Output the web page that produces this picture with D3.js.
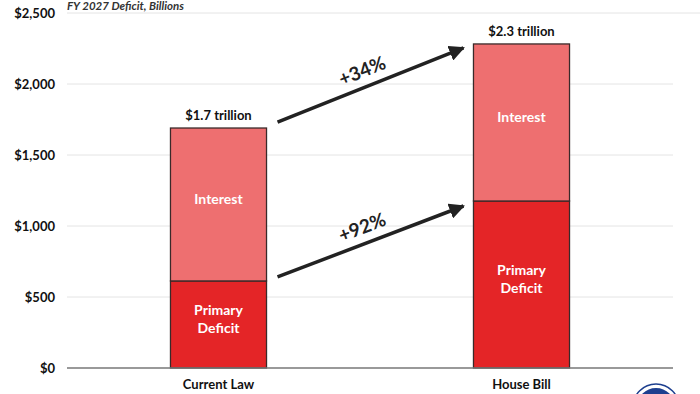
<!DOCTYPE html>
<html>
<head>
<meta charset="utf-8">
<script src="https://cdn.jsdelivr.net/npm/d3@7"></script>
<style>
  body { margin: 0; background: #fff; }
  text { font-family: Lato, "Open Sans", sans-serif; }
  .tick-lbl { font-size: 13px; font-weight: bold; fill: #111; }
  .cat-lbl { font-size: 13px; font-weight: bold; fill: #111; }
  .seg-lbl { font-size: 14px; font-weight: bold; fill: #fff; }
  .tot-lbl { font-size: 13px; font-weight: bold; fill: #111; }
  .pct-lbl { font-size: 19px; font-weight: bold; fill: #222; }
</style>
</head>
<body>
<div id="chart"></div>
<script>
// values, billions
var categories = ["Current Law", "House Bill"];
var primary = [613, 1176];
var interest = [1077, 1106];
var totalLabels = ["$1.7 trillion", "$2.3 trillion"];
var yTicks = [0, 500, 1000, 1500, 2000, 2500];
var changeLabels = ["+34%", "+92%"];

var svg = d3.select("#chart")
  .append("svg")
  .attr("width", 700)
  .attr("height", 394);

var margin = {top: 13, left: 67, right: 27, bottom: 26};
var width = 700 - margin.left - margin.right,
    height = 394 - margin.top - margin.bottom;

var x = d3.scaleBand()
  .domain(categories)
  .range([margin.left, margin.left + width])
  .paddingInner(0.683)
  .paddingOuter(0.3415);

var y = d3.scaleLinear()
  .domain([0, 2500])
  .range([margin.top + height, margin.top]);

// subtitle
svg.append("text")
  .attr("x", margin.left)
  .attr("y", 10)
  .attr("font-size", "11.5px")
  .attr("font-style", "italic")
  .attr("font-weight", "bold")
  .attr("fill", "#333")
  .text("FY 2027 Deficit, Billions");

// grid
svg.append("g").selectAll("line")
  .data(yTicks.filter(function(d) { return d > 0; }))
  .enter().append("line")
  .attr("x1", margin.left)
  .attr("x2", function(d) { return d == 2500 ? 700 : margin.left + width; })
  .attr("y1", function(d) { return y(d); })
  .attr("y2", function(d) { return y(d); })
  .attr("stroke", "#e4e4e4")
  .attr("stroke-width", 1);

// y labels
svg.append("g").selectAll("text")
  .data(yTicks)
  .enter().append("text")
  .attr("class", "tick-lbl")
  .attr("x", 55)
  .attr("y", function(d) { return y(d); })
  .attr("dy", "0.35em")
  .attr("text-anchor", "end")
  .text(function(d) { return "$" + d3.format(",")(d); });

var data = categories.map(function(c, i) {
  return {cat: c, primary: primary[i], interest: interest[i], total: primary[i] + interest[i], label: totalLabels[i]};
});

var bars = svg.append("g").selectAll("g")
  .data(data)
  .enter().append("g");

bars.append("rect")
  .attr("x", function(d) { return x(d.cat); })
  .attr("width", x.bandwidth())
  .attr("y", function(d) { return y(d.primary); })
  .attr("height", function(d) { return y(0) - y(d.primary); })
  .attr("fill", "#e42527")
  .attr("stroke", "#3a2a2a")
  .attr("stroke-width", 1.3);

bars.append("rect")
  .attr("x", function(d) { return x(d.cat); })
  .attr("width", x.bandwidth())
  .attr("y", function(d) { return y(d.total); })
  .attr("height", function(d) { return y(d.primary) - y(d.total); })
  .attr("fill", "#ee6f70")
  .attr("stroke", "#3a2a2a")
  .attr("stroke-width", 1.3);

bars.append("text")
  .attr("class", "seg-lbl")
  .attr("text-anchor", "middle")
  .attr("x", function(d) { return x(d.cat) + x.bandwidth() / 2; })
  .attr("y", function(d) { return (y(d.total) + y(d.primary)) / 2 - 5; })
  .attr("dy", "0.35em")
  .text("Interest");

bars.append("text")
  .attr("class", "seg-lbl")
  .attr("text-anchor", "middle")
  .attr("x", function(d) { return x(d.cat) + x.bandwidth() / 2; })
  .attr("y", function(d) { return (y(d.primary) + y(0)) / 2 - 14; })
  .attr("dy", "0.35em")
  .selectAll("tspan")
  .data(["Primary", "Deficit"])
  .enter().append("tspan")
  .attr("x", function() { var d = d3.select(this.parentNode).datum(); return x(d.cat) + x.bandwidth() / 2; })
  .attr("dy", function(t, i) { return i == 0 ? "0.35em" : "18px"; })
  .text(function(t) { return t; });

bars.append("text")
  .attr("class", "tot-lbl")
  .attr("text-anchor", "middle")
  .attr("x", function(d) { return x(d.cat) + x.bandwidth() / 2; })
  .attr("y", function(d) { return y(d.total) - 8; })
  .text(function(d) { return d.label; });

// baseline
svg.append("line")
  .attr("x1", margin.left)
  .attr("x2", margin.left + width)
  .attr("y1", y(0))
  .attr("y2", y(0))
  .attr("stroke", "#777")
  .attr("stroke-width", 1.3);

// category labels
svg.append("g").selectAll("text")
  .data(categories)
  .enter().append("text")
  .attr("class", "cat-lbl")
  .attr("text-anchor", "middle")
  .attr("x", function(d) { return x(d) + x.bandwidth() / 2; })
  .attr("y", 389)
  .text(function(d) { return d; });

// arrows
svg.append("defs").append("marker")
  .attr("id", "head")
  .attr("viewBox", "0 0 10 10")
  .attr("refX", 9)
  .attr("refY", 5)
  .attr("markerWidth", 4.5)
  .attr("markerHeight", 4.5)
  .attr("orient", "auto")
  .append("path")
  .attr("d", "M0,0L10,5L0,10z")
  .attr("fill", "#222");

var a = data[0], b = data[1];
var x0 = x(a.cat) + x.bandwidth() + 11,
    x1 = x(b.cat) - 10;
var arrows = [
  {y0: y(a.total) - 6, y1: y(b.total) + 4, label: changeLabels[0]},
  {y0: y(a.primary) - 4, y1: y(b.primary) + 5, label: changeLabels[1]}
];

arrows.forEach(function(ar) {
  svg.append("line")
    .attr("x1", x0).attr("y1", ar.y0)
    .attr("x2", x1).attr("y2", ar.y1)
    .attr("stroke", "#222")
    .attr("stroke-width", 3.5)
    .attr("marker-end", "url(#head)");
  var ang = Math.atan2(ar.y1 - ar.y0, x1 - x0) * 180 / Math.PI;
  var mx = (x0 + x1) / 2 - 6, my = (ar.y0 + ar.y1) / 2 - 8;
  svg.append("text")
    .attr("class", "pct-lbl")
    .attr("text-anchor", "middle")
    .attr("transform", "translate(" + mx + "," + my + ") rotate(" + ang + ")")
    .text(ar.label);
});

// logo edge
svg.append("circle")
  .attr("cx", 656).attr("cy", 407)
  .attr("r", 20)
  .attr("fill", "#1d3f8f")
  .attr("stroke", "#fff")
  .attr("stroke-width", 2);
svg.append("circle")
  .attr("cx", 656).attr("cy", 407)
  .attr("r", 23)
  .attr("fill", "none")
  .attr("stroke", "#1d3f8f")
  .attr("stroke-width", 1.5);
</script>
</body>
</html>
